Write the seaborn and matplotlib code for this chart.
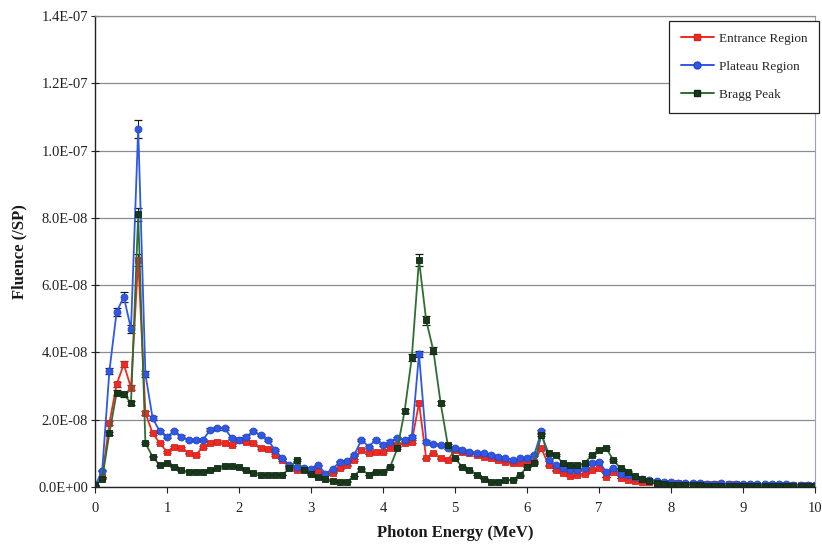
import numpy as np
import pandas as pd
import matplotlib
matplotlib.use("Agg")
import matplotlib.pyplot as plt
from matplotlib.ticker import FuncFormatter, MultipleLocator
from matplotlib.lines import Line2D
import seaborn as sns

# Photon energy bins (MeV), 0.1 MeV steps
energy = np.round(np.arange(0, 101) * 0.1, 1)

# Fluence per source particle, in units of 1E-09
entrance = [
    0.3, 3.0, 19.0, 30.5, 36.5, 29.5, 67.5, 22.0, 16.0, 13.0,
    10.5, 12.0, 11.5, 10.0, 9.5, 12.0, 13.0, 13.5, 13.0, 12.5,
    14.0, 13.5, 13.0, 11.5, 11.3, 9.5, 8.0, 6.0, 5.0, 5.3,
    4.6, 5.0, 3.6, 4.3, 5.5, 6.5, 8.0, 11.0, 10.0, 10.5,
    10.5, 11.5, 12.5, 13.0, 13.5, 25.0, 8.5, 10.0, 8.5, 8.0,
    11.0, 10.5, 10.0, 9.5, 9.0, 8.5, 8.0, 7.5, 7.0, 7.0,
    7.0, 7.5, 11.5, 6.5, 5.0, 4.3, 3.3, 3.5, 4.0, 5.0,
    5.5, 3.0, 4.5, 2.6, 2.0, 1.8, 1.6, 1.5, 1.3, 1.2,
    1.2, 1.1, 1.0, 1.0, 0.9, 0.9, 0.8, 0.8, 0.8, 0.8,
    0.7, 0.6, 0.7, 0.6, 0.7, 0.6, 0.6, 0.5, 0.5, 0.5,
    0.4,
]
plateau = [
    0.3, 4.8, 34.5, 52.0, 56.5, 47.0, 106.5, 33.5, 20.5, 16.5,
    15.0, 16.5, 15.0, 14.0, 14.0, 14.0, 17.0, 17.5, 17.5, 14.5,
    14.0, 15.0, 16.5, 15.5, 14.0, 11.0, 8.5, 6.5, 6.0, 5.5,
    5.3, 6.5, 4.0, 5.3, 7.5, 7.7, 9.5, 14.0, 12.0, 14.0,
    12.5, 13.5, 14.5, 14.0, 15.0, 39.5, 13.5, 12.7, 12.5, 11.5,
    11.5, 11.0, 10.5, 10.0, 10.0, 9.5, 9.0, 8.5, 8.0, 8.5,
    8.5, 9.5, 16.5, 8.0, 6.5, 5.5, 5.0, 5.0, 5.5, 7.0,
    7.5, 4.5, 5.5, 4.0, 3.5, 3.0, 2.5, 2.2, 1.8, 1.6,
    1.5, 1.3, 1.3, 1.2, 1.1, 1.0, 1.0, 1.1, 1.0, 0.9,
    0.9, 1.0, 0.8, 0.8, 0.9, 0.8, 0.8, 0.7, 0.7, 0.6,
    0.5,
]
bragg = [
    0.5, 2.5, 16.0, 28.0, 27.5, 25.0, 81.0, 13.0, 9.0, 6.5,
    7.0, 6.0, 5.0, 4.6, 4.6, 4.6, 5.0, 5.5, 6.3, 6.3,
    5.8, 5.0, 4.3, 3.6, 3.6, 3.6, 3.6, 5.5, 8.0, 5.0,
    3.8, 3.0, 2.4, 1.8, 1.6, 1.6, 3.3, 5.4, 3.6, 4.6,
    4.6, 6.0, 11.5, 22.5, 38.5, 67.5, 49.5, 40.5, 25.0, 12.5,
    8.5, 6.0, 5.0, 3.6, 2.5, 1.6, 1.5, 2.0, 2.2, 3.5,
    6.0, 7.0, 15.5, 10.0, 9.5, 7.0, 6.5, 6.5, 7.0, 9.5,
    11.0, 11.5, 8.0, 5.5, 4.5, 3.2, 2.3, 1.8, 1.3, 1.0,
    0.7, 0.6, 0.5, 0.5, 0.5, 0.4, 0.4, 0.4, 0.4, 0.3,
    0.3, 0.3, 0.3, 0.3, 0.3, 0.3, 0.3, 0.3, 0.2, 0.2,
    0.2,
]

# Statistical uncertainty, relative to each value
rel_uncertainty = 0.025

series_names = ["Entrance Region", "Plateau Region", "Bragg Peak"]
series_values = [entrance, plateau, bragg]

frames = []
for name, vals in zip(series_names, series_values):
    frames.append(pd.DataFrame({
        "energy": energy,
        "fluence": np.asarray(vals) * 1e-9,
        "region": name,
    }))
df = pd.concat(frames, ignore_index=True)

styles = {
    "Entrance Region": dict(color="#ee2a22", mfc="#ee2a22", mec="#d8241d", marker="s"),
    "Plateau Region": dict(color="#2f58e6", mfc="#2f58e6", mec="#2547c8", marker="o"),
    "Bragg Peak": dict(color="#2f6e31", mfc="#17381b", mec="#0f2a12", marker="s"),
}

sns.set_theme(style="white")
plt.rcParams["font.family"] = ["Liberation Serif", "DejaVu Serif"]

fig = plt.figure(figsize=(8.22, 5.47), dpi=100)
ax = fig.add_axes([95 / 822, 60 / 547, 720 / 822, 471 / 547])

for name in series_names:
    sub = df[df["region"] == name]
    st = styles[name]
    ax.errorbar(sub["energy"], sub["fluence"], yerr=sub["fluence"] * rel_uncertainty,
                fmt="none", ecolor="#1a1a1a", elinewidth=0.8, capsize=2.6,
                capthick=0.9, zorder=1.5)
    sns.lineplot(data=sub, x="energy", y="fluence", ax=ax, color=st["color"],
                 marker=st["marker"], markersize=5.0, markerfacecolor=st["mfc"],
                 markeredgecolor=st["mec"], markeredgewidth=0.6,
                 linewidth=1.3, legend=False, zorder=2)

ax.set_xlim(0, 10)
ax.set_ylim(0, 1.4e-7)
ax.xaxis.set_major_locator(MultipleLocator(1))
ax.yaxis.set_major_locator(MultipleLocator(2e-8))
ax.yaxis.set_major_formatter(FuncFormatter(lambda v, p: f"{v:.1E}"))
ax.xaxis.set_major_formatter(FuncFormatter(lambda v, p: f"{v:g}"))

ax.grid(axis="y", color="#8c8c8c", linewidth=0.9)
ax.grid(axis="x", visible=False)
ax.set_axisbelow(True)

for side in ["left", "bottom"]:
    ax.spines[side].set_color("#222222")
    ax.spines[side].set_linewidth(1.0)
ax.spines["top"].set_color("#8c8c8c")
ax.spines["top"].set_linewidth(0.9)
ax.spines["right"].set_color("#9aa0c0")
ax.spines["right"].set_linewidth(0.8)

ax.tick_params(axis="y", which="major", direction="inout", length=6, width=0.8,
               color="#222222", left=True, labelsize=10.5, pad=2, labelcolor="#222222")
ax.tick_params(axis="x", which="major", direction="out", length=4, width=0.8,
               color="#222222", bottom=True, labelsize=10.5, pad=7, labelcolor="#222222")

ax.set_xlabel("Photon Energy (MeV)", fontsize=12, fontweight="bold", labelpad=7,
              color="#1a1a1a")
ax.set_ylabel("Fluence (/SP)", fontsize=12, fontweight="bold", labelpad=8,
              color="#1a1a1a")

handles = []
for name in series_names:
    st = styles[name]
    handles.append(Line2D([0], [0], color=st["color"], marker=st["marker"],
                          markersize=5, markerfacecolor=st["mfc"],
                          markeredgecolor=st["mec"], linewidth=1.4))
leg = ax.legend(handles, series_names, loc="upper right",
                bbox_to_anchor=(1.006, 0.99), fontsize=9.5, frameon=True,
                fancybox=False, edgecolor="#222222", framealpha=1,
                handlelength=2.5, labelspacing=1.2, borderpad=0.9,
                handletextpad=0.4, borderaxespad=0.0)
leg.get_frame().set_linewidth(0.9)

fig.savefig("out.png", dpi=100, facecolor="white")
